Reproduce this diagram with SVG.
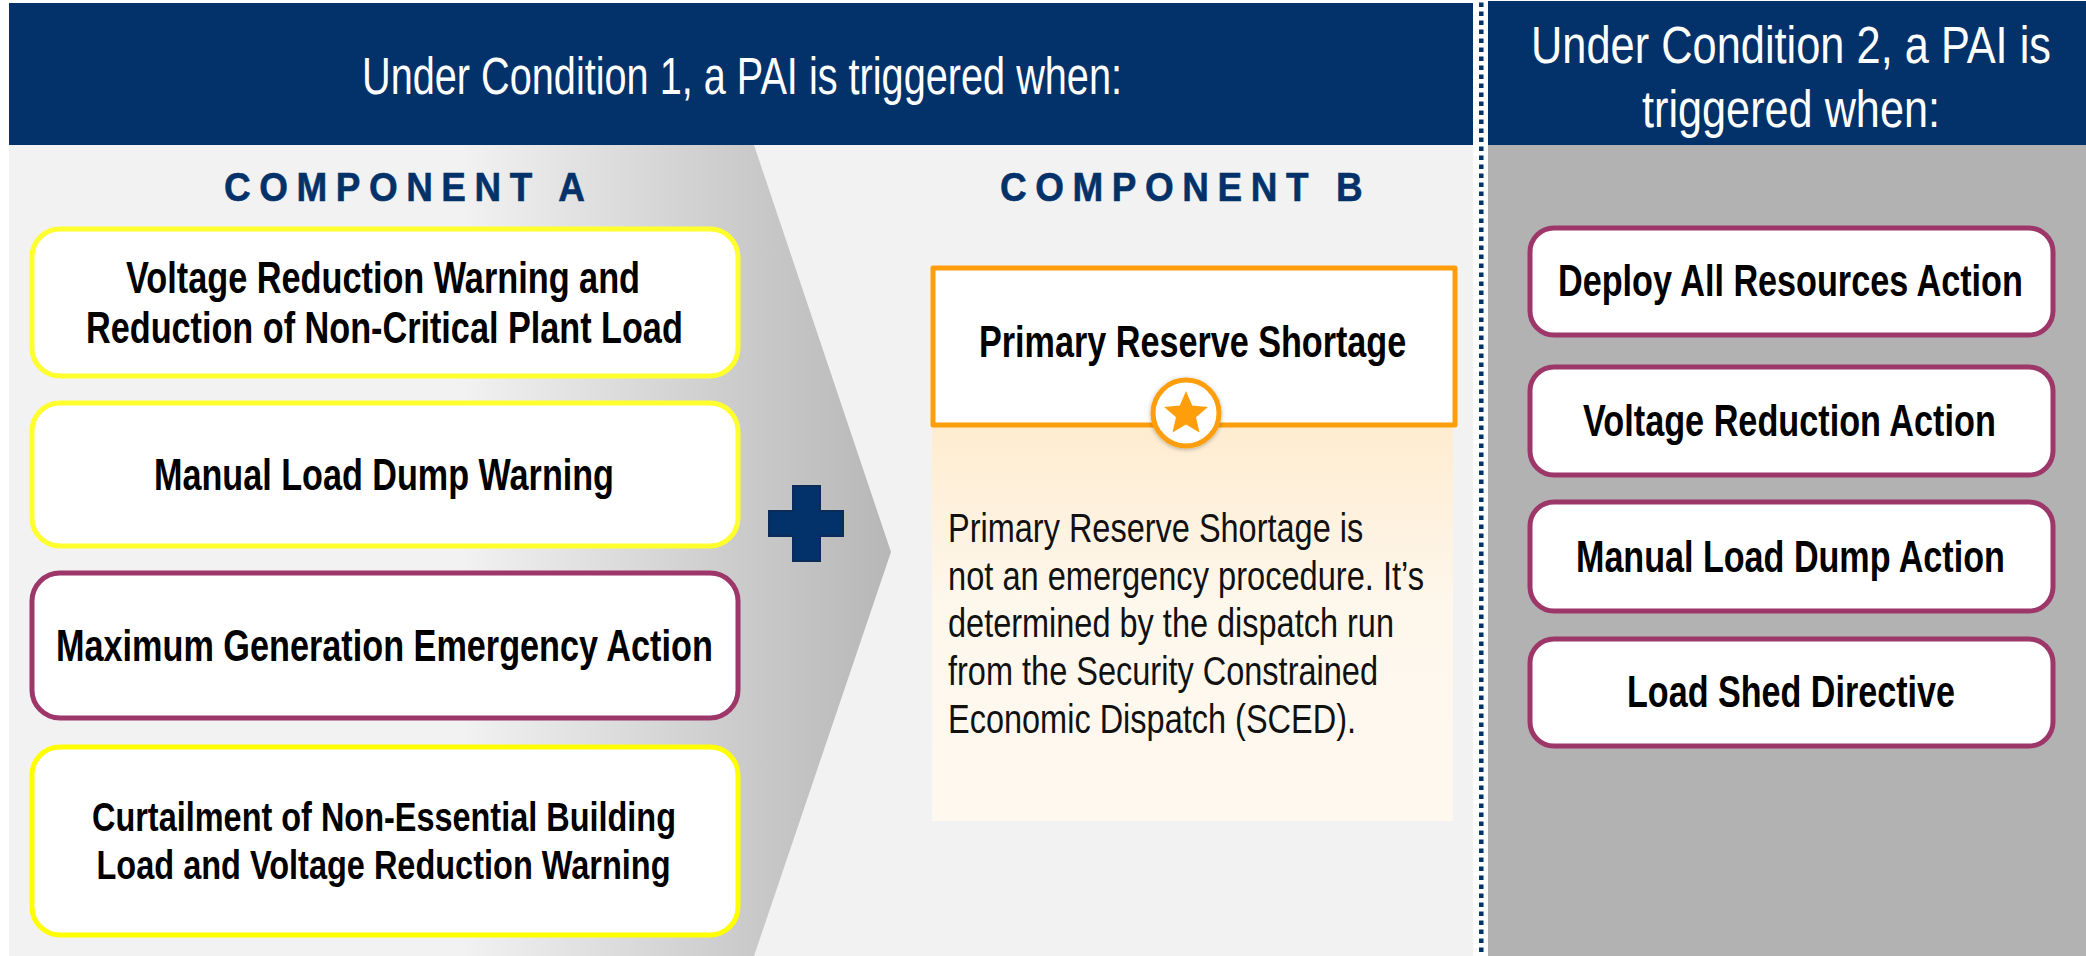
<svg xmlns="http://www.w3.org/2000/svg" width="2086" height="956" viewBox="0 0 2086 956">
<style>
text{font-family:"Liberation Sans",Arial,sans-serif}
.h{fill:#fff;font-size:52px}
.hb{fill:#03326a}
.c{fill:#03326a;font-size:41px;font-weight:bold;stroke:#03326a;stroke-width:.6px}
.b{fill:#000;font-size:44px;font-weight:bold}
.s{font-size:40px}
.p{fill:#111;font-size:40px}
.box{fill:#fff;stroke-width:5}
.y{stroke:#ffff2e}
.m{stroke:#9e3769}
</style>
<defs>
<linearGradient id="arrow" gradientUnits="userSpaceOnUse" x1="460" y1="0" x2="891" y2="0">
<stop offset="0" stop-color="#f2f2f2"/><stop offset=".65" stop-color="#cbcbcb"/><stop offset="1" stop-color="#b7b7b7"/>
</linearGradient>
<linearGradient id="peach" x1="0" y1="0" x2="0" y2="1">
<stop offset="0" stop-color="#feecd0"/><stop offset=".45" stop-color="#fef7ec"/><stop offset="1" stop-color="#fef8ef"/>
</linearGradient>
<filter id="sh" x="-20%" y="-20%" width="140%" height="140%"><feDropShadow dx="0" dy="1" stdDeviation="2" flood-color="#000" flood-opacity=".3"/></filter>
</defs>
<rect width="2086" height="956" fill="#fff"/>
<rect x="9" y="145" width="1464" height="811" fill="#f2f2f2"/>
<polygon points="9,145 754,145 891,552 754,956 9,956" fill="url(#arrow)"/>
<rect x="9" y="145" width="451" height="811" fill="#f2f2f2"/>
<rect x="1488" y="145" width="598" height="811" fill="#b2b2b2"/>
<g id="header-1"><rect class="hb" x="9" y="3" width="1464" height="142"/>
<text class="h" transform="translate(362 94) scale(.8 1)" textLength="950" lengthAdjust="spacingAndGlyphs">Under Condition 1, a PAI is triggered when:</text></g>
<g id="header-2"><rect class="hb" x="1488" y="1" width="598" height="144"/>
<text class="h" transform="translate(1531 63) scale(.8 1)" textLength="650" lengthAdjust="spacingAndGlyphs">Under Condition 2, a PAI is</text>
<text class="h" transform="translate(1642 127) scale(.8 1)" textLength="372.500" lengthAdjust="spacingAndGlyphs">triggered when:</text></g>
<g id="divider"><line x1="1481.3" y1="2.5" x2="1481.3" y2="956" stroke="#03326a" stroke-width="4.5" stroke-dasharray="4.5 4.5"/></g>
<g id="component-a-title"><text class="c" transform="translate(224 201) scale(.9 1)" textLength="401" lengthAdjust="spacing">COMPONENT A</text></g>
<g id="component-b-title"><text class="c" transform="translate(1000 201) scale(.9 1)" textLength="403" lengthAdjust="spacing">COMPONENT B</text></g>
<g id="a1"><rect class="box y" x="32" y="229" width="706" height="147" rx="28"/>
<text class="b" transform="translate(126 293) scale(.8 1)" textLength="642.500" lengthAdjust="spacingAndGlyphs">Voltage Reduction Warning and</text>
<text class="b" transform="translate(86 343) scale(.8 1)" textLength="746" lengthAdjust="spacingAndGlyphs">Reduction of Non-Critical Plant Load</text></g>
<g id="a2"><rect class="box y" x="32" y="403" width="706" height="143" rx="28"/>
<text class="b" transform="translate(154 490) scale(.8 1)" textLength="575" lengthAdjust="spacingAndGlyphs">Manual Load Dump Warning</text></g>
<g id="a3"><rect class="box m" x="32" y="573" width="706" height="145" rx="28"/>
<text class="b" transform="translate(56 661) scale(.8 1)" textLength="821" lengthAdjust="spacingAndGlyphs">Maximum Generation Emergency Action</text></g>
<g id="a4"><rect class="box y" x="32" y="747" width="706" height="188" rx="28" style="stroke:#ffff00"/>
<text class="b s" transform="translate(92 831) scale(.8 1)" textLength="730" lengthAdjust="spacingAndGlyphs">Curtailment of Non-Essential Building</text>
<text class="b s" transform="translate(96.500 879) scale(.8 1)" textLength="717.500" lengthAdjust="spacingAndGlyphs">Load and Voltage Reduction Warning</text></g>
<g id="plus"><polygon points="793,486 820,486 820,511 843,511 843,536 820,536 820,561 793,561 793,536 769,536 769,511 793,511" fill="#03326a" stroke="#0b2c58" stroke-width="2"/></g>
<g id="b1">
<rect x="932" y="426" width="521" height="395" fill="url(#peach)"/>
<rect x="933" y="268" width="522" height="157" fill="#fff" stroke="#ff9e0b" stroke-width="5" stroke-linejoin="round"/>
<text class="b" transform="translate(979 357) scale(.8 1)" textLength="534" lengthAdjust="spacingAndGlyphs">Primary Reserve Shortage</text>
<circle cx="1186" cy="413" r="33" fill="#fff" stroke="#ff9e0b" stroke-width="5" filter="url(#sh)"/>
<polygon points="1186,391 1192.200,405.500 1207.900,406.900 1196,417.200 1199.500,432.600 1186,424.500 1172.500,432.600 1176,417.200 1164.100,406.900 1179.800,405.500" fill="#ff9e0b"/>
<text class="p" transform="translate(948 542) scale(.8 1)" textLength="519" lengthAdjust="spacingAndGlyphs">Primary Reserve Shortage is</text>
<text class="p" transform="translate(948 590) scale(.8 1)" textLength="595" lengthAdjust="spacingAndGlyphs">not an emergency procedure. It’s</text>
<text class="p" transform="translate(948 637) scale(.8 1)" textLength="557.500" lengthAdjust="spacingAndGlyphs">determined by the dispatch run</text>
<text class="p" transform="translate(948 685) scale(.8 1)" textLength="537.500" lengthAdjust="spacingAndGlyphs">from the Security Constrained</text>
<text class="p" transform="translate(948 733) scale(.8 1)" textLength="510" lengthAdjust="spacingAndGlyphs">Economic Dispatch (SCED).</text>
</g>
<g id="c1"><rect class="box m" x="1530" y="228" width="523" height="107" rx="24"/>
<text class="b" transform="translate(1558 296) scale(.8 1)" textLength="581" lengthAdjust="spacingAndGlyphs">Deploy All Resources Action</text></g>
<g id="c2"><rect class="box m" x="1530" y="367" width="523" height="108" rx="24"/>
<text class="b" transform="translate(1583 436) scale(.8 1)" textLength="516" lengthAdjust="spacingAndGlyphs">Voltage Reduction Action</text></g>
<g id="c3"><rect class="box m" x="1530" y="502" width="523" height="109" rx="24"/>
<text class="b" transform="translate(1576 572) scale(.8 1)" textLength="536" lengthAdjust="spacingAndGlyphs">Manual Load Dump Action</text></g>
<g id="c4"><rect class="box m" x="1530" y="639" width="523" height="107" rx="24"/>
<text class="b" transform="translate(1627 707) scale(.8 1)" textLength="410" lengthAdjust="spacingAndGlyphs">Load Shed Directive</text></g>
</svg>
